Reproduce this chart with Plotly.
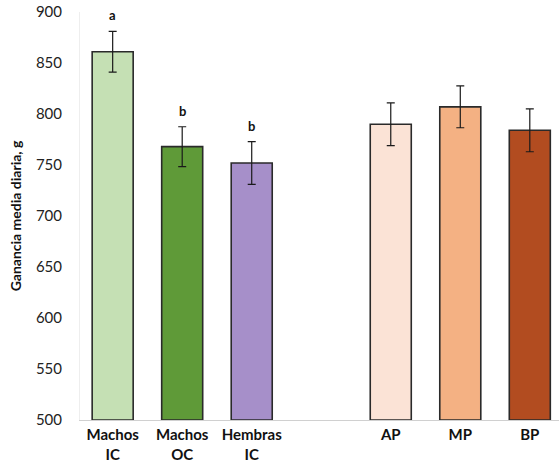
import plotly.graph_objects as go

# Average daily gain by group (g/day)
categories = ["Machos<br>IC", "Machos<br>OC", "Hembras<br>IC", "AP", "MP", "BP"]
positions = [0, 1, 2, 4, 5, 6]
gain = [861, 768, 752, 790, 807, 784]
gain_err = [20, 19.5, 21, 21, 20.5, 21]
letters = ["a", "b", "b", "", "", ""]
colors = ["#c5e0b4", "#5f9a38", "#a68fc9", "#fbe3d6", "#f4b183", "#b24c20"]

FONT = "Lato, Open Sans, sans-serif"

fig = go.Figure()
fig.add_trace(go.Bar(
    x=positions,
    y=[g - 500 for g in gain],
    base=500,
    width=0.59,
    marker=dict(color=colors, line=dict(color="#2a2a2a", width=1.6)),
    error_y=dict(type="data", array=gain_err, color="#1a1a1a", thickness=1.2, width=4),
    showlegend=False,
    hoverinfo="skip",
))

for xp, g, e, lt in zip(positions, gain, gain_err, letters):
    if lt:
        fig.add_annotation(x=xp, y=g + e, text="<b>" + lt + "</b>", showarrow=False,
                           yanchor="bottom", yshift=6,
                           font=dict(family=FONT, size=13, color="#111"))

fig.update_layout(
    width=559, height=464,
    margin=dict(l=80, r=0, t=12, b=44),
    plot_bgcolor="white", paper_bgcolor="white",
    xaxis=dict(
        range=[-0.47, 6.42],
        tickvals=positions, ticktext=["<b>" + c + "</b>" for c in categories],
        tickfont=dict(family=FONT, size=15, color="#111"),
        ticklabelstandoff=1,
        automargin=False,
        showline=True, linecolor="#d0d0d0", linewidth=1,
        ticks="", showgrid=False, zeroline=False,
    ),
    yaxis=dict(
        range=[500, 900], dtick=50,
        tickfont=dict(family=FONT, size=15, color="#222"),
        ticklabelstandoff=14,
        automargin=False,
        showgrid=False, zeroline=False, showline=True, linecolor="#eeeeee",
        ticks="", ticklen=0,
        title=dict(text="<b>Ganancia media diaria, g</b>", standoff=10,
                   font=dict(family=FONT, size=14, color="#111")),
    ),
)

fig.write_html("out.html")
